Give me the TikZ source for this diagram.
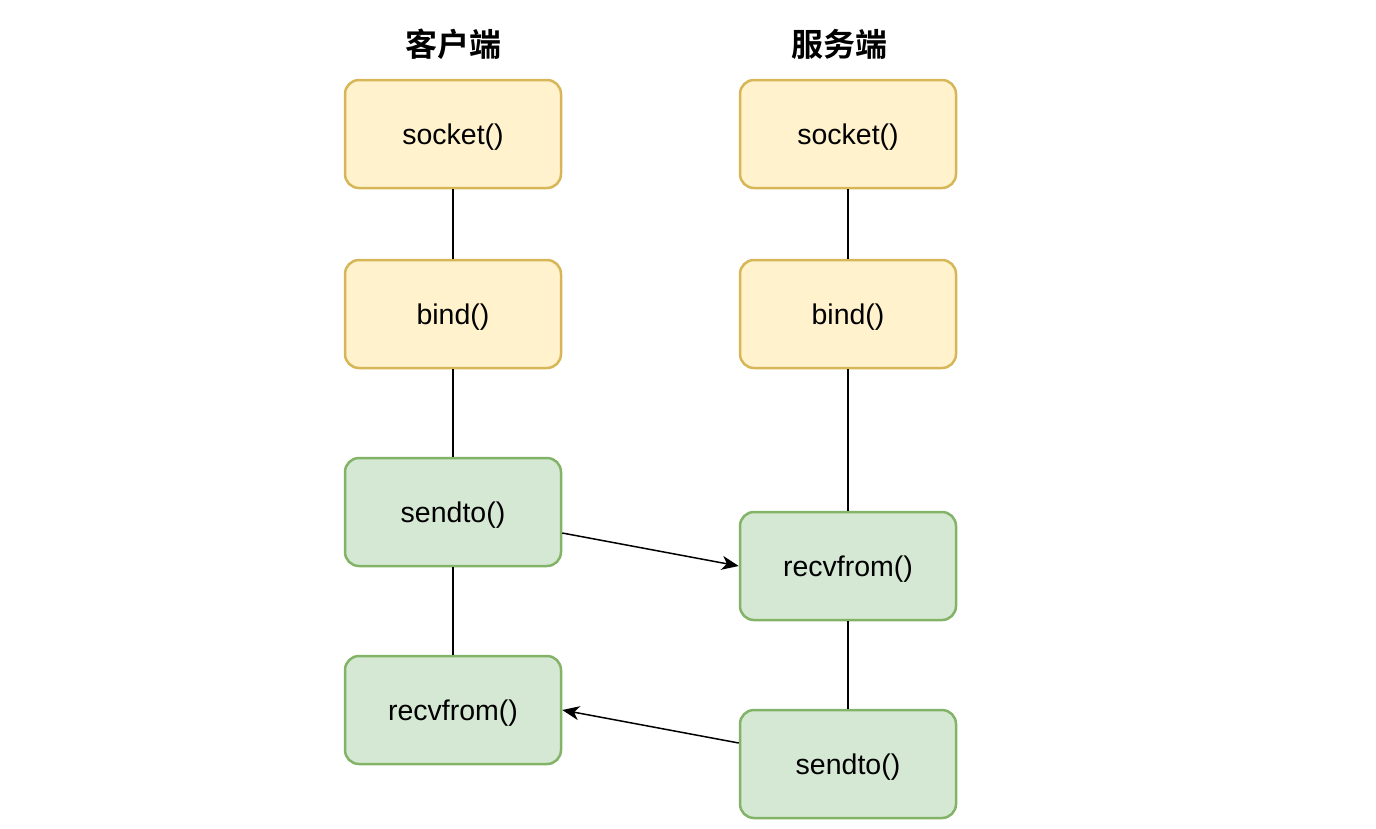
\documentclass[tikz,border=0pt]{standalone}
\usepackage{fontspec}
\setmainfont{Liberation Sans}
\newfontfamily\cjk{Noto Sans CJK SC}[BoldFont={* Bold}]
\usetikzlibrary{calc,arrows.meta}
\definecolor{yfill}{HTML}{FFF2CC}
\definecolor{ydraw}{HTML}{D6B656}
\definecolor{gfill}{HTML}{D5E8D4}
\definecolor{gdraw}{HTML}{82B366}
\tikzset{
  box/.style={rounded corners=14pt, minimum width=216pt, minimum height=108pt,
    line width=2.5pt, inner sep=0pt, text depth=0pt, font=\fontsize{28.5}{32}\selectfont},
  ybox/.style={box, draw=ydraw, fill=yfill},
  gbox/.style={box, draw=gdraw, fill=gfill},
  title/.style={font=\cjk\bfseries\fontsize{32}{36}\selectfont},
  link/.style={line width=1.5pt, black},
  arr/.style={line width=1.5pt, black, -{Stealth[length=17pt,width=14pt,inset=5pt]}}
}
\begin{document}
\begin{tikzpicture}[x=1pt,y=-1pt]
\useasboundingbox (0,0) rectangle (1376,828);
\node[title] (tc) at (453,44) {客户端};
\node[title] (ts) at (839,44) {服务端};
% client
\node[ybox] (cs) at (453,134) {socket()};
\node[ybox] (cb) at (453,314) {bind()};
\node[gbox] (csend) at (453,512) {sendto()};
\node[gbox] (crecv) at (453,710) {recvfrom()};
% server
\node[ybox] (ss) at (848,134) {socket()};
\node[ybox] (sb) at (848,314) {bind()};
\node[gbox] (srecv) at (848,566) {recvfrom()};
\node[gbox] (ssend) at (848,764) {sendto()};
% vertical links
\draw[link] (cs.south) -- (cb.north);
\draw[link] (cb.south) -- (csend.north);
\draw[link] (csend.south) -- (crecv.north);
\draw[link] (ss.south) -- (sb.north);
\draw[link] (sb.south) -- (srecv.north);
\draw[link] (srecv.south) -- (ssend.north);
% arrows
\draw[arr] ($(csend.east)+(0,21)$) -- (srecv.west);
\draw[arr] ($(ssend.west)+(0,-21)$) -- (crecv.east);
\end{tikzpicture}
\end{document}
